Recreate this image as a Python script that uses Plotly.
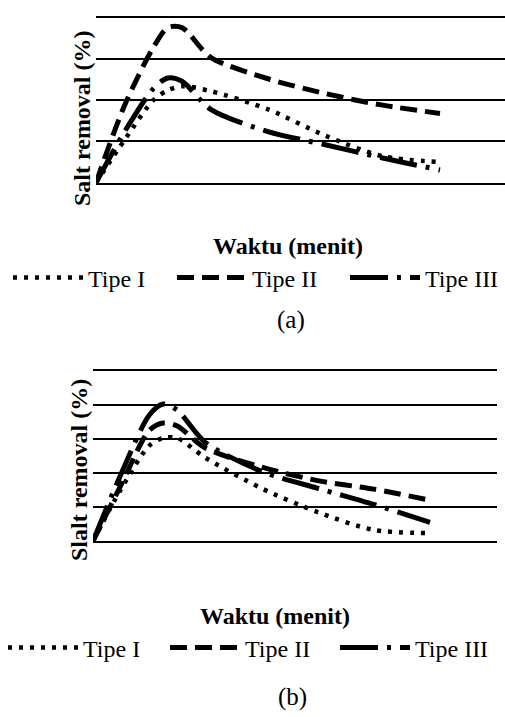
import plotly.graph_objects as go

W, H = 505, 717

# time (minutes) – shared sample points
waktu = [0, 10, 20, 25, 30, 40, 60, 80, 100, 120]

# panel (a) salt removal (%)
a_tipe1 = [0, 26, 50, 56, 58.5, 55.5, 44.5, 28.5, 16, 12.5]
a_tipe2 = [0, 47, 82, 94, 94, 76, 63, 54, 47, 42]
a_tipe3 = [0, 31, 57, 63.5, 61.5, 44.5, 31, 23, 15, 7.7]

# panel (b) salt removal (%)
b_tipe1 = [0, 30.6, 56, 60.6, 60.6, 49, 31, 17, 6.5, 4.7]
b_tipe2 = [0, 33, 65, 69.4, 67.6, 54.7, 43.5, 35.5, 30.5, 24]
b_tipe3 = [0, 39.4, 74, 80.6, 77, 58, 41, 31, 21.5, 11]

names = ["Tipe I", "Tipe II", "Tipe III"]
dashes = ["4px,7px", "17px,8px", "38px,9px,4px,9px"]
widths = [4.5, 5, 5]

FONT = "Liberation Serif, Times New Roman, serif"

def px_x(p):
    return p / W

def px_y(p):
    return 1 - p / H

fig = go.Figure()

legend_ids_a = ["legend", "legend2", "legend3"]
legend_ids_b = ["legend4", "legend5", "legend6"]

for i, ys in enumerate([a_tipe1, a_tipe2, a_tipe3]):
    fig.add_trace(go.Scatter(
        x=waktu, y=ys, name=names[i], mode="lines",
        line=dict(color="black", width=widths[i], dash=dashes[i], shape="spline", smoothing=0.8),
        xaxis="x", yaxis="y", legend=legend_ids_a[i],
    ))
for i, ys in enumerate([b_tipe1, b_tipe2, b_tipe3]):
    fig.add_trace(go.Scatter(
        x=waktu, y=ys, name=names[i], mode="lines",
        line=dict(color="black", width=widths[i], dash=dashes[i], shape="spline", smoothing=0.8),
        xaxis="x2", yaxis="y2", legend=legend_ids_b[i],
    ))

axis_common = dict(showticklabels=False, ticks="", zeroline=False)
xline = dict(showline=True, mirror=True, linecolor="black", linewidth=2)

fig.update_layout(
    width=W, height=H,
    margin=dict(l=0, r=0, t=0, b=0),
    paper_bgcolor="white", plot_bgcolor="white",
    font=dict(family=FONT, color="black", size=24),
    xaxis=dict(domain=[px_x(96), 1.0], range=[0, 120 * 409 / 344], showgrid=False, anchor="y",
               **xline, **axis_common),
    yaxis=dict(domain=[px_y(182.7), px_y(17.7)], range=[0, 100], dtick=25, showgrid=True,
               gridcolor="black", gridwidth=2, anchor="x", showline=False, **axis_common),
    xaxis2=dict(domain=[px_x(93), px_x(497)], range=[0, 120 * 404 / 337], showgrid=False, anchor="y2",
                **xline, **axis_common),
    yaxis2=dict(domain=[px_y(541), px_y(371)], range=[0, 100], dtick=20, showgrid=True,
                gridcolor="black", gridwidth=2, anchor="x2", showline=False, **axis_common),
    showlegend=True,
)

# legend sample start positions (px) for each panel
sample_x_a = [13, 177, 350]
sample_x_b = [8, 170, 340]
for ids, xs, yc in [(legend_ids_a, sample_x_a, 278), (legend_ids_b, sample_x_b, 648)]:
    for lid, sx in zip(ids, xs):
        fig.update_layout({lid: dict(
            orientation="h", x=px_x(sx - 5), y=px_y(yc), xanchor="left", yanchor="middle",
            itemwidth=70, font=dict(family=FONT, size=24), bgcolor="rgba(0,0,0,0)",
        )})

annos = [
    dict(text="<b>Salt removal (%)</b>", x=px_x(82), y=px_y(118), textangle=-90, size=24),
    dict(text="<b>Slalt removal (%)</b>", x=px_x(79), y=px_y(470), textangle=-90, size=24),
    dict(text="<b>Waktu (menit)</b>", x=px_x(288), y=px_y(246), textangle=0, size=24),
    dict(text="<b>Waktu (menit)</b>", x=px_x(275), y=px_y(616), textangle=0, size=24),
    dict(text="(a)", x=px_x(291), y=px_y(320), textangle=0, size=25),
    dict(text="(b)", x=px_x(292), y=px_y(697), textangle=0, size=25),
]
for a in annos:
    fig.add_annotation(text=a["text"], x=a["x"], y=a["y"], xref="paper", yref="paper",
                       xanchor="center", yanchor="middle", showarrow=False, textangle=a["textangle"],
                       font=dict(family=FONT, size=a["size"], color="black"))

fig.write_html("out.html", config={"displayModeBar": False},
               post_script="document.body.style.margin='0';document.body.style.overflow='hidden';")
